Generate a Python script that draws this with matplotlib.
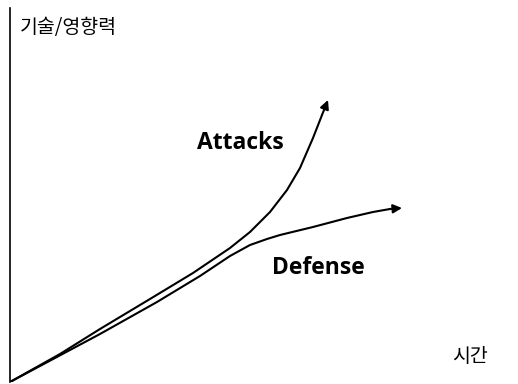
import matplotlib.pyplot as plt

# concept chart: skill/impact over time
attack_x = [0, 50, 90, 140, 183, 220, 240, 260, 277, 290, 303, 312, 318]
attack_y = [0, 28, 53, 83, 109, 134, 150, 170, 192, 214, 244, 267, 282]
defense_x = [0, 90, 147, 190, 220, 240, 257, 270, 303, 337, 363, 380, 392]
defense_y = [0, 48, 80, 106, 126, 137, 143, 147, 155, 164, 170, 173, 174]

labels = {"Attacks": (230, 239), "Defense": (308, 114)}
y_title = "기술/영향력"
x_title = "시간"

kr_font = ["Noto Sans CJK KR", "DejaVu Sans"]

fig = plt.figure(figsize=(5.18, 3.84), dpi=100)
ax = fig.add_axes([10 / 518, 2 / 384, 508 / 518, 374 / 384])
ax.set_xlim(0, 508)
ax.set_ylim(0, 374)

for xs, ys in [(attack_x, attack_y), (defense_x, defense_y)]:
    ax.plot(xs[:-1], ys[:-1], color="black", lw=1.5,
            solid_capstyle="round", solid_joinstyle="round")
    ax.annotate("", xy=(xs[-1], ys[-1]), xytext=(xs[-2], ys[-2]),
                arrowprops=dict(arrowstyle="-|>", color="black", lw=1.5,
                                mutation_scale=13, shrinkA=0, shrinkB=0))

for name, (x, y) in labels.items():
    ax.text(x, y, name, ha="center", va="center", fontsize=16.5,
            fontweight="bold", family="Open Sans")

ax.text(10, 355, y_title, ha="left", va="center", fontsize=14, family=kr_font)
ax.text(460, 25, x_title, ha="center", va="center", fontsize=14, family=kr_font)

for side in ["top", "right", "bottom"]:
    ax.spines[side].set_visible(False)
ax.spines["left"].set_linewidth(1.2)
ax.set_xticks([])
ax.set_yticks([])

fig.savefig("out.png", dpi=100)
